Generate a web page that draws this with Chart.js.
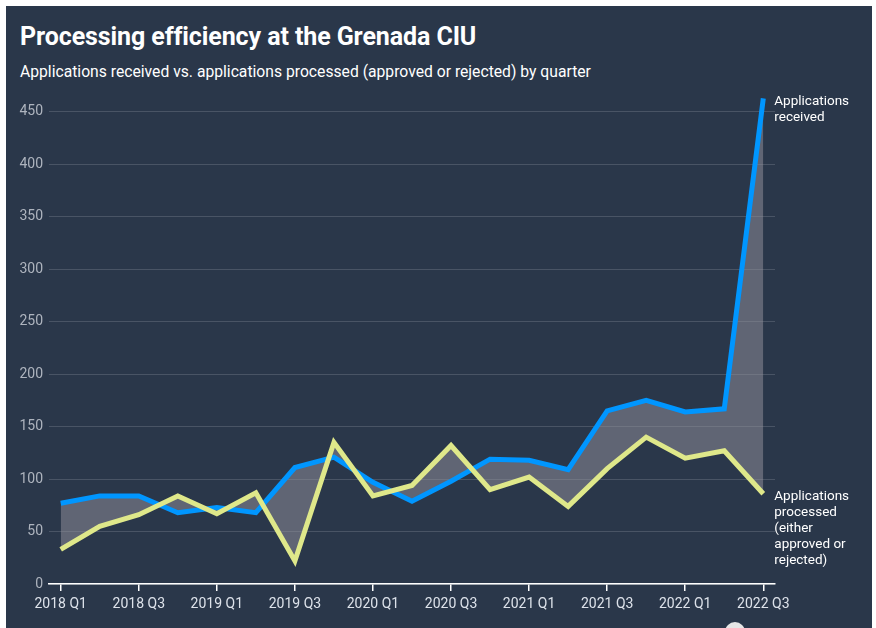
<!DOCTYPE html>
<html lang="en">
<head>
    <meta charset="UTF-8">
    <title>Processing efficiency at the Grenada CIU</title>
    <style>
        html, body { margin: 0; padding: 0; background: #fff; width: 876px; height: 628px; overflow: hidden; }
        body { position: relative; font-family: Roboto, Arial, sans-serif; }
        #panel { position: absolute; left: 6px; top: 6px; width: 866px; height: 622px; background: #2a374a; }
        h1 { position: absolute; left: 20px; top: 22px; margin: 0; color: #fff; font-size: 25px; font-weight: 700; letter-spacing: -0.1px; }
        .sub { position: absolute; left: 20px; top: 62px; margin: 0; color: #fff; font-size: 15.7px; }
        #dot { position: absolute; left: 725px; top: 622px; width: 20px; height: 20px; border-radius: 50%; background: #e6e6e6; }
        canvas { position: absolute; left: 0; top: 0; }
    </style>
    <script src="https://cdn.jsdelivr.net/npm/chart.js@4.4.0/dist/chart.umd.min.js"></script>
</head>
<body>
    <div id="panel"></div>
    <h1>Processing efficiency at the Grenada CIU</h1>
    <p class="sub">Applications received vs. applications processed (approved or rejected) by quarter</p>
    <div id="dot"></div>
    <canvas id="chart" width="876" height="628"></canvas>

    <script>
        const quarters = ['2018 Q1', '2018 Q2', '2018 Q3', '2018 Q4', '2019 Q1', '2019 Q2', '2019 Q3', '2019 Q4',
            '2020 Q1', '2020 Q2', '2020 Q3', '2020 Q4', '2021 Q1', '2021 Q2', '2021 Q3', '2021 Q4',
            '2022 Q1', '2022 Q2', '2022 Q3'];
        const received = [77, 84, 84, 68, 73, 68, 111, 121, 97, 79, 98, 119, 118, 109, 165, 175, 164, 167, 463];
        const processed = [33, 55, 66, 84, 67, 87, 22, 135, 84, 94, 132, 90, 102, 74, 110, 140, 120, 127, 86];
        const yTicks = [0, 50, 100, 150, 200, 250, 300, 350, 400, 450];

        const receivedLabel = ['Applications', 'received'];
        const processedLabel = ['Applications', 'processed', '(either', 'approved or', 'rejected)'];

        // labels at the end of each line
        const endLabels = {
            id: 'endLabels',
            afterDatasetsDraw(chart) {
                const ctx = chart.ctx;
                ctx.save();
                ctx.font = '13.5px Roboto, Arial, sans-serif';
                ctx.fillStyle = '#ffffff';
                ctx.textBaseline = 'middle';
                chart.data.datasets.forEach((ds, i) => {
                    const pts = chart.getDatasetMeta(i).data;
                    const p = pts[pts.length - 1];
                    ds.endText.forEach((line, j) => {
                        ctx.fillText(line, p.x + 11, p.y + 3 + j * 16);
                    });
                });
                ctx.restore();
            }
        };

        const ctx = document.getElementById('chart').getContext('2d');
        new Chart(ctx, {
            type: 'line',
            data: {
                datasets: [{
                    label: 'Applications received',
                    endText: receivedLabel,
                    data: received.map((v, i) => ({ x: i, y: v })),
                    borderColor: '#0096ff',
                    borderWidth: 5,
                    backgroundColor: 'rgba(150,148,158,0.5)',
                    fill: '+1',
                    pointRadius: 0,
                    tension: 0,
                    order: 1
                }, {
                    label: 'Applications processed',
                    endText: processedLabel,
                    data: processed.map((v, i) => ({ x: i, y: v })),
                    borderColor: '#dfe88a',
                    borderWidth: 5,
                    fill: false,
                    pointRadius: 0,
                    tension: 0,
                    order: 0
                }]
            },
            options: {
                responsive: false,
                animation: false,
                layout: { padding: { left: 0, right: 101, top: 91, bottom: 0 } },
                plugins: {
                    legend: { display: false },
                    tooltip: { enabled: false }
                },
                scales: {
                    x: {
                        type: 'linear',
                        min: -0.3,
                        max: 18.3,
                        afterBuildTicks: s => { s.ticks = quarters.map((q, i) => ({ value: i })).filter(t => t.value % 2 === 0); },
                        afterFit: s => { s.height = 44; },
                        grid: { drawOnChartArea: false, drawTicks: true, tickLength: 7, color: '#ffffff', lineWidth: 1.5 },
                        border: { display: true, color: '#ffffff', width: 1.5 },
                        ticks: {
                            callback: v => quarters[v],
                            color: '#dde2ea',
                            font: { family: 'Roboto', size: 14 },
                            padding: 5,
                            maxRotation: 0,
                            autoSkip: false
                        }
                    },
                    y: {
                        min: 0,
                        max: 470,
                        afterBuildTicks: s => { s.ticks = yTicks.map(v => ({ value: v })); },
                        afterFit: s => { s.width = 49; },
                        grid: { color: 'rgba(255,255,255,0.15)', drawTicks: false, lineWidth: 1 },
                        border: { display: false },
                        ticks: {
                            color: '#aeb4be',
                            font: { family: 'Roboto', size: 14 },
                            padding: 6
                        }
                    }
                }
            },
            plugins: [endLabels]
        });
    </script>
</body>
</html>
